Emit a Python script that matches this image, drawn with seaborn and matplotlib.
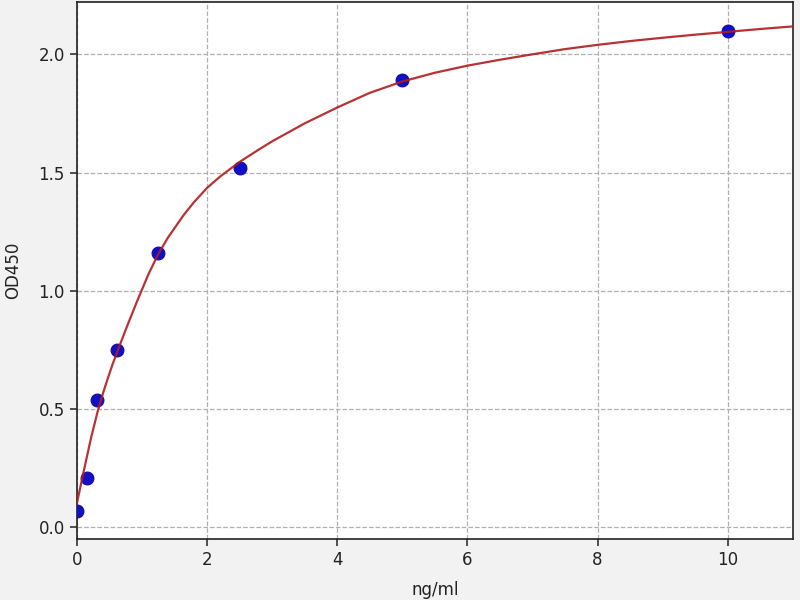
import matplotlib
matplotlib.use("Agg")
import matplotlib.pyplot as plt
import seaborn as sns
import pandas as pd

# Standard points (concentration ng/ml, OD450)
conc = [0.0, 0.156, 0.3125, 0.625, 1.25, 2.5, 5.0, 10.0]
od = [0.07, 0.21, 0.54, 0.75, 1.16, 1.52, 1.89, 2.10]

# Fitted curve
curve_x = [0.0, 0.05, 0.1, 0.156, 0.22, 0.32, 0.4, 0.47, 0.55, 0.625, 0.75, 0.92,
           1.1, 1.25, 1.4, 1.64, 1.8, 2.0, 2.2, 2.5, 2.8, 3.0, 3.5, 4.0, 4.5,
           5.0, 5.5, 6.0, 6.5, 7.0, 7.5, 8.0, 8.5, 9.0, 9.5, 10.0, 10.5, 11.0]
curve_y = [0.10, 0.165, 0.23, 0.30, 0.38, 0.49, 0.565, 0.625, 0.69, 0.745, 0.835, 0.952,
           1.07, 1.155, 1.225, 1.32, 1.375, 1.435, 1.483, 1.545, 1.598, 1.632, 1.708, 1.775, 1.837,
           1.885, 1.922, 1.952, 1.977, 2.0, 2.022, 2.04, 2.056, 2.07, 2.083, 2.095, 2.107, 2.118]

pts = pd.DataFrame({"conc": conc, "od": od})
crv = pd.DataFrame({"x": curve_x, "y": curve_y})

sns.set_style("ticks")
plt.rcParams["font.family"] = ["DejaVu Sans"]

fig = plt.figure(figsize=(8, 6), dpi=100, facecolor="#f2f2f2")
ax = fig.add_axes([0.096, 0.102, 0.895, 0.895])
ax.set_facecolor("white")

sns.scatterplot(data=pts, x="conc", y="od", ax=ax, color="#1010c8", s=85,
                edgecolor="#1a0a9a", linewidth=0.8, zorder=3)
sns.lineplot(data=crv, x="x", y="y", ax=ax, color="#b01c1c", linewidth=1.6,
             sort=False, zorder=4, alpha=0.9)

ax.set_xlim(0, 11)
ax.set_ylim(-0.048, 2.222)
ax.set_xticks([0, 2, 4, 6, 8, 10])
ax.set_yticks([0.0, 0.5, 1.0, 1.5, 2.0])
ax.set_yticklabels(["0.0", "0.5", "1.0", "1.5", "2.0"])
ax.grid(True, linestyle="--", color="#b0b0b0", linewidth=0.9)
ax.set_axisbelow(True)
for sp in ax.spines.values():
    sp.set_visible(True)
    sp.set_color("#222222")
    sp.set_linewidth(1.2)
ax.tick_params(axis="both", labelsize=12, length=5, width=1.1, color="#222222",
               labelcolor="#222222", direction="out")
ax.set_xlabel("ng/ml", fontsize=12, color="#222222", labelpad=9)
ax.set_ylabel("OD450", fontsize=12, color="#222222", labelpad=12)

fig.savefig("out.png", dpi=100, facecolor=fig.get_facecolor())
